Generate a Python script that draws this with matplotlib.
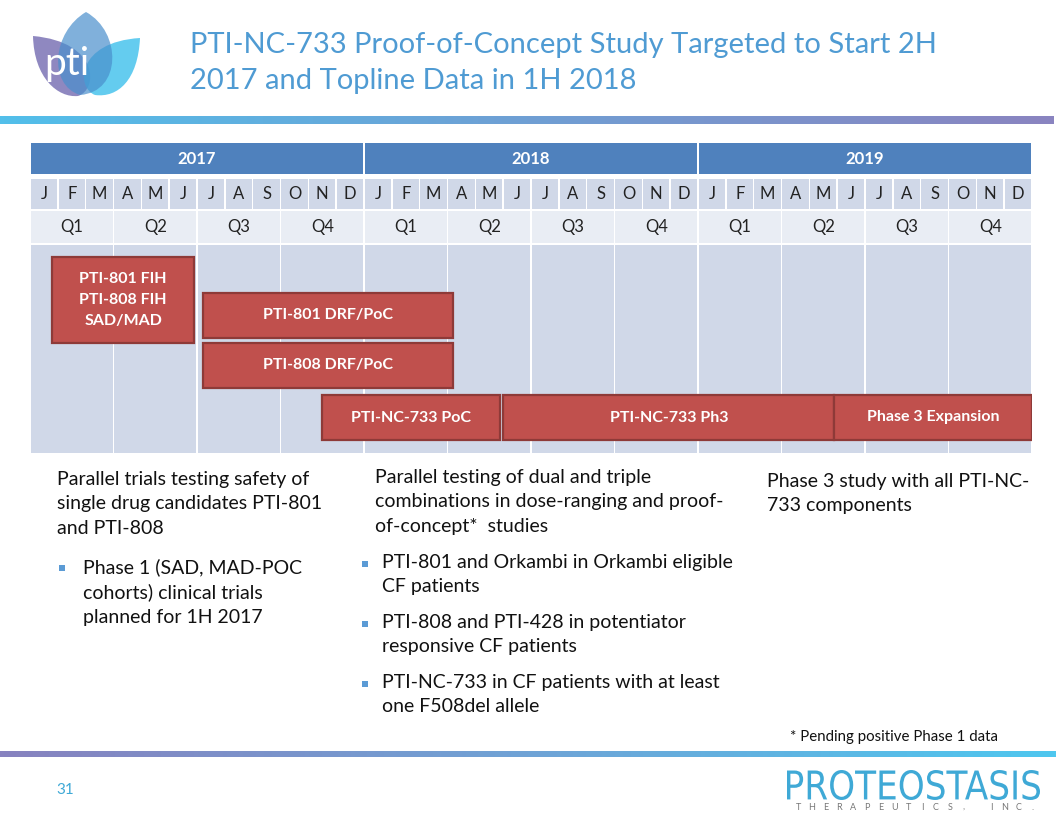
import numpy as np
import matplotlib.pyplot as plt
from matplotlib.colors import LinearSegmentedColormap
from matplotlib.patches import Rectangle, PathPatch
from matplotlib.path import Path
from matplotlib.textpath import TextPath
from matplotlib.font_manager import FontProperties
from matplotlib.transforms import Affine2D

plt.rcParams['font.family'] = ['Lato', 'DejaVu Sans']

# ---- data ----
years = ["2017", "2018", "2019"]
months = ["J", "F", "M", "A", "M", "J", "J", "A", "S", "O", "N", "D"]
quarters = ["Q1", "Q2", "Q3", "Q4"]

bar_labels = ["PTI-801 FIH\nPTI-808 FIH\nSAD/MAD", "PTI-801 DRF/PoC", "PTI-808 DRF/PoC",
              "PTI-NC-733 PoC", "PTI-NC-733 Ph3", "Phase 3 Expansion"]
bar_start = [0.8, 6.2, 6.2, 10.5, 17.0, 28.9]   # months since Jan 2017
bar_end = [5.9, 15.2, 15.2, 16.9, 28.9, 36.0]
bar_lane = [0, 1, 2, 3, 3, 3]

title = "PTI-NC-733 Proof-of-Concept Study Targeted to Start 2H\n2017 and Topline Data in 1H 2018"
block1_head = "Parallel trials testing safety of\nsingle drug candidates PTI-801\nand PTI-808"
block1_bullets = ["Phase 1 (SAD, MAD-POC\ncohorts) clinical trials\nplanned for 1H 2017"]
block2_head = "Parallel testing of dual and triple\ncombinations in dose-ranging and proof-\nof-concept*  studies"
block2_bullets = ["PTI-801 and Orkambi in Orkambi eligible\nCF patients",
                  "PTI-808 and PTI-428 in potentiator\nresponsive CF patients",
                  "PTI-NC-733 in CF patients with at least\none F508del allele"]
block3_head = "Phase 3 study with all PTI-NC-\n733 components"
footnote = "* Pending positive Phase 1 data"

# ---- style ----
W, H = 1056, 816
hdr_blue = "#4F81BD"
band1 = "#D0D8E8"
band2 = "#E9EDF4"
bar_red = "#C0504D"
bar_edge = "#8E3A38"
title_blue = "#4F9BD3"
accent = "#3FA9D6"

fig = plt.figure(figsize=(W / 100, H / 100), dpi=100)
ax = fig.add_axes([0, 0, 1, 1])
ax.axis("off")

# gradient rules
grad = np.linspace(0, 1, 256).reshape(1, -1)
cm_top = LinearSegmentedColormap.from_list("top", ["#52BFEA", "#6F9FD4", "#8A84C0"])
cm_bot = LinearSegmentedColormap.from_list("bot", ["#8782BF", "#6FA3D6", "#4EC7EF"])
ax.imshow(grad, cmap=cm_top, extent=[0, 1054, 124, 116], aspect="auto", zorder=1)
ax.imshow(grad, cmap=cm_bot, extent=[0, W, 757, 751], aspect="auto", zorder=1)
ax.set_xlim(0, W)
ax.set_ylim(H, 0)

# logo petals
def petal(pts, color, alpha):
    codes = [Path.MOVETO] + [Path.CURVE4] * (len(pts) - 1)
    ax.add_patch(PathPatch(Path(pts, codes), fc=color, ec="none", alpha=alpha, zorder=2))

petal([(33, 36), (34, 78), (58, 98), (78, 96), (98, 90), (100, 42), (33, 36)], "#7B73B5", 0.85)
petal([(140, 38), (138, 80), (118, 98), (95, 95), (76, 88), (76, 42), (140, 38)], "#3DC0EC", 0.8)
petal([(86, 12), (52, 32), (48, 85), (80, 95), (122, 92), (122, 32), (86, 12)], "#4A8FCC", 0.7)
ax.text(67, 64, "pti", color="white", fontsize=28, ha="center", va="center", zorder=3)

ax.text(190, 63, title, color=title_blue, fontsize=21, ha="left", va="center",
        linespacing=1.47)

# ---- timeline table ----
tx0, tx1, ty0, ty1 = 30, 1032, 143, 453
tax = fig.add_axes([tx0 / W, 1 - ty1 / H, (tx1 - tx0) / W, (ty1 - ty0) / H])
n_months = 12 * len(years)
tax.set_xlim(0, n_months)
tax.set_ylim(ty1 - ty0, 0)
tax.axis("off")

rows = {"year": (0, 31), "month": (36, 66), "quarter": (68, 100), "body": (102, 310)}
px = n_months / (tx1 - tx0)  # one pixel in month units

for i, yr in enumerate(years):
    y0, y1 = rows["year"]
    tax.add_patch(Rectangle((i * 12 + px, y0), 12 - 2 * px, y1 - y0, fc=hdr_blue, ec="none"))
    tax.text(i * 12 + 6, (y0 + y1) / 2, yr, color="white", fontsize=12, fontweight="bold",
             ha="center", va="center")
    for m, lab in enumerate(months):
        y0, y1 = rows["month"]
        tax.add_patch(Rectangle((i * 12 + m + px * 0.7, y0), 1 - 1.4 * px, y1 - y0,
                                fc=band1, ec="none"))
        tax.text(i * 12 + m + 0.5, (y0 + y1) / 2, lab, color="#222222", fontsize=12,
                 ha="center", va="center")
    for q, lab in enumerate(quarters):
        y0, y1 = rows["quarter"]
        xq = i * 12 + q * 3
        tax.add_patch(Rectangle((xq + px * 0.7, y0), 3 - 1.4 * px, y1 - y0, fc=band2, ec="none"))
        tax.text(xq + 1.5, (y0 + y1) / 2, lab, color="#222222", fontsize=12,
                 ha="center", va="center")
        y0, y1 = rows["body"]
        tax.add_patch(Rectangle((xq + px * 0.7, y0), 3 - 1.4 * px, y1 - y0, fc=band1, ec="none"))

lane_y = [(114, 200), (150, 195), (200, 245), (252, 297)]
for lab, s, e, ln in zip(bar_labels, bar_start, bar_end, bar_lane):
    y0, y1 = lane_y[ln]
    tax.add_patch(Rectangle((s, y0), e - s, y1 - y0, fc=bar_red, ec=bar_edge, lw=1.6, zorder=3))
    tax.text((s + e) / 2, (y0 + y1) / 2, lab, color="white", fontsize=11.5, fontweight="bold",
             ha="center", va="center", linespacing=1.65, zorder=4)

# ---- text blocks ----
body_kw = dict(fontsize=14, color="#111111", ha="left", va="top", linespacing=1.52)

def bullets(x_dot, x_txt, y, items, gap):
    for it in items:
        ax.add_patch(Rectangle((x_dot, y + 7), 6, 6, fc="#5B9BD5", ec="none"))
        ax.text(x_txt, y, it, **body_kw)
        y += 25 * (it.count("\n") + 1) + gap

ax.text(57, 471, block1_head, **body_kw)
bullets(59, 83, 558, block1_bullets, 10)
ax.text(375, 469, block2_head, **body_kw)
bullets(362, 382, 554, block2_bullets, 10)
ax.text(767, 473, block3_head, **body_kw)

ax.text(790, 737, footnote, fontsize=10.8, color="#111111", ha="left", va="center")
ax.text(65, 790, "31", fontsize=11, color=accent, ha="center", va="center")

# narrow corporate wordmark: stretch a text path to the box it fills
tp = TextPath((0, 0), "PROTEOSTASIS", size=10, prop=FontProperties(family="DejaVu Sans"))
bb = tp.get_extents()
tr = (Affine2D().translate(-bb.x0, -bb.y0)
      .scale(253 / bb.width, -30 / bb.height).translate(787, 800))
ax.add_patch(PathPatch(tr.transform_path(tp), fc=accent, ec="none", zorder=3))
for k, ch in enumerate("THERAPEUTICS, INC."):
    ax.text(798 + k * 13.8, 807, ch, fontsize=6.5, color="#777777", ha="center", va="center")

fig.savefig("out.png", dpi=100)
